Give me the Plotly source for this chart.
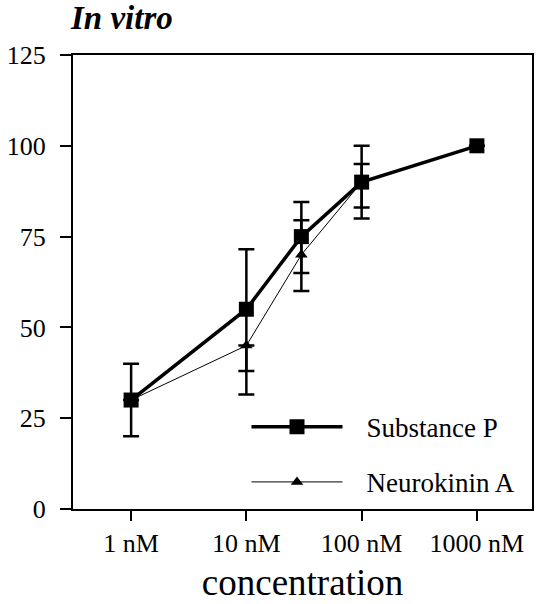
import plotly.graph_objects as go

conc_sp = [1, 10, 30, 100, 1000]
sp_vals = [30, 55, 75, 90, 100]
sp_err_plus = [10, 16.5, 9.5, 10, 0]
sp_err_minus = [10, 17, 10, 10, 0]

conc_nka = [1, 10, 30, 100]
nka_vals = [30, 45, 70, 90]
nka_err_plus = [0, 0, 9.5, 5]
nka_err_minus = [0, 13.5, 10, 7]

tick_vals = [1, 10, 100, 1000]
tick_text = ["1 nM", "10 nM", "100 nM", "1000 nM"]
y_ticks = [0, 25, 50, 75, 100, 125]

fig = go.Figure()
fig.add_trace(go.Scatter(
    x=conc_nka, y=nka_vals, name="\u2002\u2009Neurokinin A", mode="lines+markers",
    line=dict(color="black", width=1),
    marker=dict(symbol="triangle-up", size=11, color="black"),
    error_y=dict(type="data", symmetric=False, array=nka_err_plus, arrayminus=nka_err_minus,
                 color="black", thickness=2.5, width=8),
    legendgroup="b", legendrank=2,
))
fig.add_trace(go.Scatter(
    x=conc_sp, y=sp_vals, name="\u2002\u2009Substance P", mode="lines+markers",
    line=dict(color="black", width=3.5),
    marker=dict(symbol="square", size=15, color="black"),
    error_y=dict(type="data", symmetric=False, array=sp_err_plus, arrayminus=sp_err_minus,
                 color="black", thickness=2.5, width=8),
    legendgroup="a", legendrank=1,
))

font_family = "Liberation Serif, Times New Roman, serif"
fig.update_layout(
    width=549, height=604,
    margin=dict(l=73, r=17, t=55, b=95),
    plot_bgcolor="white", paper_bgcolor="white",
    font=dict(family=font_family, size=24, color="black"),
    showlegend=True,
    legend=dict(x=0.378, y=0.234, xanchor="left", yanchor="top",
                bgcolor="rgba(0,0,0,0)", itemwidth=91, tracegroupgap=17,
                traceorder="grouped", font=dict(size=27, family=font_family)),
    xaxis=dict(type="log", range=[-0.504, 3.478], tickvals=tick_vals, ticktext=tick_text,
               showgrid=False, zeroline=False, showline=True, linecolor="black", linewidth=2,
               mirror=True, ticks="outside", ticklen=10, tickwidth=2, tickcolor="black",
               automargin=False,
               title=dict(text="concentration", font=dict(size=37), standoff=12),
               tickfont=dict(size=26)),
    yaxis=dict(range=[0, 125], tickvals=y_ticks, showgrid=False, zeroline=False,
               showline=True, linecolor="black", linewidth=2, mirror=True,
               ticks="outside", ticklen=11, tickwidth=2, tickcolor="black",
               automargin=False,
               ticklabelstandoff=9, tickfont=dict(size=26)),
    annotations=[dict(text="<b><i>In vitro</i></b>", xref="paper", yref="paper",
                      x=-0.011, y=1.0, xanchor="left", yanchor="middle", yshift=37,
                      showarrow=False, font=dict(size=33, family=font_family))],
)
fig.write_html("out.html")
